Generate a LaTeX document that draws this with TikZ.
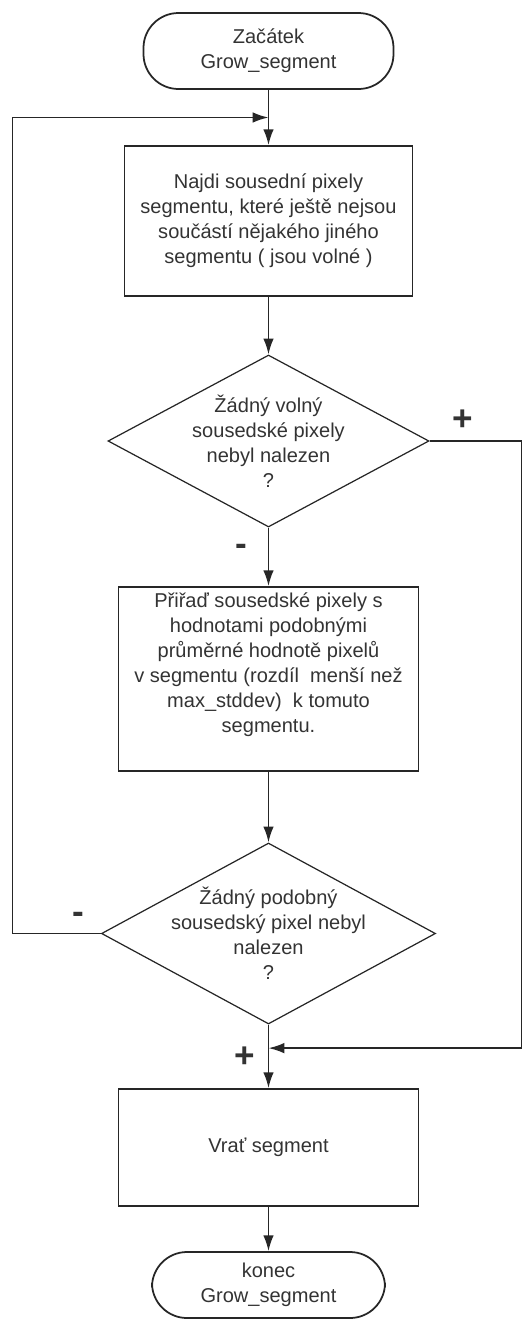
\documentclass[tikz,border=0pt]{standalone}
\usepackage{fontspec}
\setmainfont{Liberation Sans}
\usetikzlibrary{shapes,arrows,arrows.meta,positioning,calc}
\tikzset{
term/.style = {draw, rectangle, rounded corners=0.7cm, minimum height=1.52cm, minimum width=5cm, align=center, line width=1pt},
block/.style = {draw, rectangle, minimum height=3em, minimum width=6cm, align=center, line width=1pt},
decision/.style = {draw, diamond, minimum width=6.42cm, minimum height=3.44cm, line width=0.7pt},
tmp/.style = {coordinate},
sign/.style = {font=\fontsize{20}{20}\selectfont\bfseries, inner sep=0pt, anchor=center}
}
\begin{document}
\begin{tikzpicture}[auto, node distance=2cm, >={Latex[length=9pt,width=6pt]}, line width=1pt,
    draw=black!85, text=black!80, font=\fontsize{11.4}{14.2}\selectfont]
    \useasboundingbox (-5.37,1.02) rectangle (5.09,-25.38);
    \node [term] (start) {Začátek\\Grow\_segment};
    \node [block, below of=start, node distance=3.4cm, minimum width=5.76cm, minimum height=3cm] (find)
        {Najdi sousední pixely\\segmentu, které ještě nejsou\\součástí nějakého jiného\\segmentu ( jsou volné )};
    \node [decision, below of=find, node distance=4.4cm,
        label={[align=center]center:Žádný volný\\sousedské pixely\\nebyl nalezen\\?}] (free) {};
    \node [block, below of=free, node distance=4.76cm, minimum height=3.68cm] (assign)
        {Přiřaď sousedské pixely s\\hodnotami podobnými\\průměrné hodnotě pixelů\\v segmentu (rozdíl~ menší než\\max\_stddev)~ k tomuto\\segmentu.\\ \strut};
    \node [decision, below of=assign, node distance=5.09cm, minimum width=6.68cm, minimum height=3.62cm,
        label={[align=center]center:Žádný podobný\\sousedský pixel nebyl\\nalezen\\?}] (nofit) {};
    \node [block, below of=nofit, node distance=4.28cm, minimum height=2.34cm] (ret) {Vrať segment};
    \node [term, below of=ret, node distance=2.75cm, minimum width=4.66cm, minimum height=1.32cm] (stop)
        {konec\\Grow\_segment};
    \node [tmp] (join1) at ($(start.south)!0.5!(find.north)$) {};
    \node [tmp] (join2) at ($(nofit.south)!0.37!(ret.north)$) {};
    \draw [->] (start) -- (find);
    \draw [->] (find) -- (free);
    \draw [->] (free) -- node[sign, pos=0.3, xshift=-0.54cm, yshift=-0.1cm]{-} (assign);
    \draw [->] (assign) -- (nofit);
    \draw [->] (nofit) -- node[sign, pos=0.48, xshift=-0.47cm, yshift=-0.05cm]{+} (ret);
    \draw [->] (ret) -- (stop);
    \draw [->] (free.east) -- node[sign, pos=0.36, yshift=0.42cm]{+} ++(1.84,0) |- (join2);
    \draw [->] (nofit.west) -- node[sign, pos=0.25, yshift=0.32cm]{-} ++(-1.77,0) |- (join1);
\end{tikzpicture}
\end{document}
